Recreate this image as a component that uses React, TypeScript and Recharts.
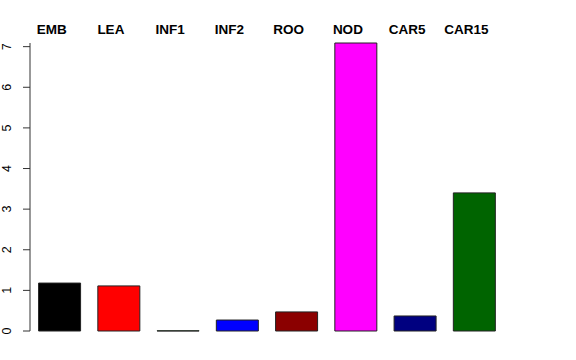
import { BarChart, Bar, XAxis, YAxis, Cell } from "recharts";

const categories = ["EMB", "LEA", "INF1", "INF2", "ROO", "NOD", "CAR5", "CAR15"];
const values = [1.18, 1.11, 0.005, 0.27, 0.47, 7.09, 0.37, 3.4];
const colors = ["#000000", "#ff0000", "#00cd00", "#0000ff", "#8b0000", "#ff00ff", "#000080", "#006400"];
const yTicks = [0, 1, 2, 3, 4, 5, 6, 7];

const font = "'Liberation Sans', Arial, Helvetica, sans-serif";

const data = categories.map((name, i) => ({ name, value: values[i], color: colors[i] }));

function TopLabel(props: any) {
  const { x, y, payload } = props;
  return (
    <text x={x - 8} y={y} textAnchor="middle" fontFamily={font} fontWeight="bold" fontSize={13.5} fill="#000">
      {payload.value}
    </text>
  );
}

function SideTick(props: any) {
  const { x, y, payload } = props;
  return (
    <text
      x={x}
      y={y}
      transform={`rotate(-90, ${x}, ${y})`}
      textAnchor="middle"
      fontFamily={font}
      fontSize={12.5}
      fill="#000"
    >
      {payload.value}
    </text>
  );
}

export default function App() {
  return (
    <div style={{ position: "absolute", left: 0, top: 0, width: 576, height: 360, background: "#fff" }}>
      <BarChart
        width={576}
        height={360}
        data={data}
        margin={{ top: 13, right: 72, bottom: 29, left: 0 }}
        barCategoryGap="14.5%"
      >
        <XAxis
          dataKey="name"
          orientation="top"
          height={30}
          axisLine={false}
          tickLine={false}
          tickSize={0}
          tickMargin={9}
          interval={0}
          tick={<TopLabel />}
        />
        <YAxis
          domain={[0, "dataMax"]}
          ticks={yTicks}
          width={30}
          tickSize={7}
          tickMargin={12}
          axisLine={{ stroke: "#333" }}
          tickLine={{ stroke: "#333" }}
          tick={<SideTick />}
        />
        <Bar dataKey="value" stroke="#222" strokeWidth={1} isAnimationActive={false}>
          {data.map((d) => (
            <Cell key={d.name} fill={d.color} />
          ))}
        </Bar>
      </BarChart>
    </div>
  );
}
